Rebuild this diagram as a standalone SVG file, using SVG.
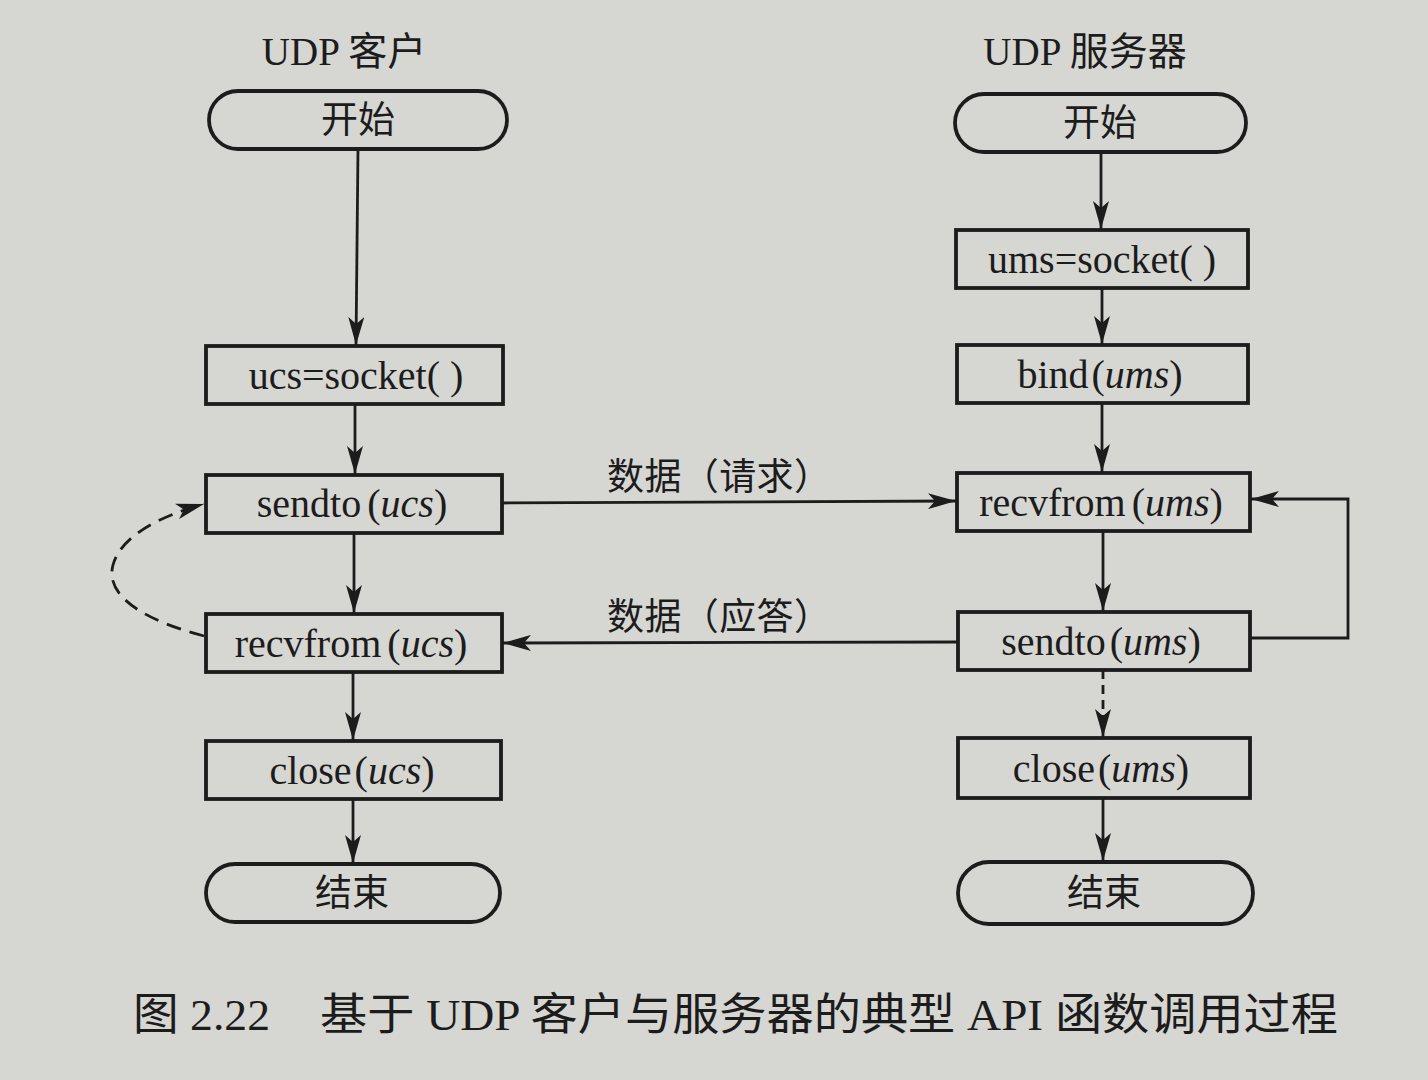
<svg xmlns="http://www.w3.org/2000/svg" width="1428" height="1080" viewBox="0 0 1428 1080">
<style>
.box{fill:none;stroke:#1c1c1c;stroke-width:3.8}
.ln{fill:none;stroke:#1c1c1c;stroke-width:2.8}
.dash{fill:none;stroke:#1c1c1c;stroke-width:2.8;stroke-dasharray:15 9}
.t{font-family:"Liberation Serif","Noto Sans CJK SC",serif;font-size:40px;fill:#1c1c1c;text-anchor:middle}
.cn{font-family:"Noto Sans CJK SC",sans-serif;font-size:37px;fill:#1c1c1c;text-anchor:middle}
.lbl{font-family:"Noto Sans CJK SC",sans-serif;font-size:37px;fill:#1c1c1c}
.ttl{font-family:"Liberation Serif","Noto Sans CJK SC",serif;font-size:39px;fill:#1c1c1c;text-anchor:middle}
.cap{font-family:"Liberation Serif","Noto Sans CJK SC",serif;font-size:44px;fill:#1c1c1c}
.i{font-style:italic}
</style>
<defs>
<marker id="ah" markerUnits="userSpaceOnUse" markerWidth="30" markerHeight="16" refX="28" refY="8" orient="auto">
<path d="M0,0 L28,8 L0,16 L7,8 z" fill="#1c1c1c"/>
</marker>
</defs>
<rect width="1428" height="1080" fill="#d6d6d2"/>

<text class="ttl" x="344" y="65">UDP 客户</text>
<text class="ttl" x="1085" y="65">UDP 服务器</text>

<g id="c-start"><rect class="box" x="209" y="91" width="298" height="58" rx="29"/><text class="cn" x="358" y="133">开始</text></g>
<g id="c-socket"><rect class="box" x="206" y="346" width="297" height="58"/><text class="t" x="356" y="389">ucs=socket( )</text></g>
<g id="c-sendto"><rect class="box" x="206" y="475" width="296" height="58"/><text class="t" x="352" y="517">sendto<tspan dx="6">(</tspan><tspan class="i">ucs</tspan>)</text></g>
<g id="c-recvfrom"><rect class="box" x="206" y="614" width="296" height="58"/><text class="t" x="351" y="657">recvfrom<tspan dx="6">(</tspan><tspan class="i">ucs</tspan>)</text></g>
<g id="c-close"><rect class="box" x="206" y="741" width="295" height="58"/><text class="t" x="352" y="784">close<tspan dx="3">(</tspan><tspan class="i">ucs</tspan>)</text></g>
<g id="c-end"><rect class="box" x="206" y="864" width="294" height="58" rx="29"/><text class="cn" x="352" y="906">结束</text></g>

<g id="s-start"><rect class="box" x="955" y="94" width="291" height="58" rx="29"/><text class="cn" x="1100" y="136">开始</text></g>
<g id="s-socket"><rect class="box" x="956" y="230" width="292" height="58"/><text class="t" x="1102" y="273">ums=socket( )</text></g>
<g id="s-bind"><rect class="box" x="957" y="345" width="291" height="58"/><text class="t" x="1100" y="388">bind<tspan dx="3">(</tspan><tspan class="i">ums</tspan>)</text></g>
<g id="s-recvfrom"><rect class="box" x="957" y="473" width="293" height="58"/><text class="t" x="1101" y="516">recvfrom<tspan dx="6">(</tspan><tspan class="i">ums</tspan>)</text></g>
<g id="s-sendto"><rect class="box" x="958" y="612" width="292" height="58"/><text class="t" x="1101" y="655">sendto<tspan dx="4">(</tspan><tspan class="i">ums</tspan>)</text></g>
<g id="s-close"><rect class="box" x="958" y="738" width="292" height="60"/><text class="t" x="1101" y="782">close<tspan dx="3">(</tspan><tspan class="i">ums</tspan>)</text></g>
<g id="s-end"><rect class="box" x="958" y="862" width="295" height="62" rx="31"/><text class="cn" x="1104" y="906">结束</text></g>

<g id="connectors">
<line class="ln" x1="358" y1="149" x2="356" y2="345" marker-end="url(#ah)"/>
<line class="ln" x1="355" y1="404" x2="355" y2="474" marker-end="url(#ah)"/>
<line class="ln" x1="354" y1="533" x2="354" y2="613" marker-end="url(#ah)"/>
<line class="ln" x1="353" y1="672" x2="353" y2="740" marker-end="url(#ah)"/>
<line class="ln" x1="353" y1="799" x2="353" y2="863" marker-end="url(#ah)"/>
<path class="dash" d="M204,636 C150,622 104,598 113,565 C121,536 160,516 204,504" marker-end="url(#ah)"/>

<line class="ln" x1="1101" y1="152" x2="1101" y2="229" marker-end="url(#ah)"/>
<line class="ln" x1="1102" y1="288" x2="1102" y2="344" marker-end="url(#ah)"/>
<line class="ln" x1="1102" y1="403" x2="1102" y2="472" marker-end="url(#ah)"/>
<line class="ln" x1="1103" y1="531" x2="1103" y2="611" marker-end="url(#ah)"/>
<line class="dash" x1="1103" y1="670" x2="1103" y2="737" style="stroke-dasharray:9 6" marker-end="url(#ah)"/>
<line class="ln" x1="1103" y1="798" x2="1103" y2="861" marker-end="url(#ah)"/>
<polyline class="ln" points="1250,638 1348,638 1348,499 1251,499" marker-end="url(#ah)"/>

<line class="ln" x1="502" y1="503" x2="956" y2="501" marker-end="url(#ah)"/>
<text class="lbl" x="607" y="490" textLength="224" lengthAdjust="spacing">数据（请求）</text>
<line class="ln" x1="958" y1="642" x2="503" y2="643" marker-end="url(#ah)"/>
<text class="lbl" x="607" y="630" textLength="224" lengthAdjust="spacing">数据（应答）</text>
</g>

<text class="cap" x="133" y="1030" textLength="137" lengthAdjust="spacingAndGlyphs">图 2.22</text>
<text class="cap" x="320" y="1030" textLength="1018" lengthAdjust="spacingAndGlyphs">基于 UDP 客户与服务器的典型 API 函数调用过程</text>
</svg>
